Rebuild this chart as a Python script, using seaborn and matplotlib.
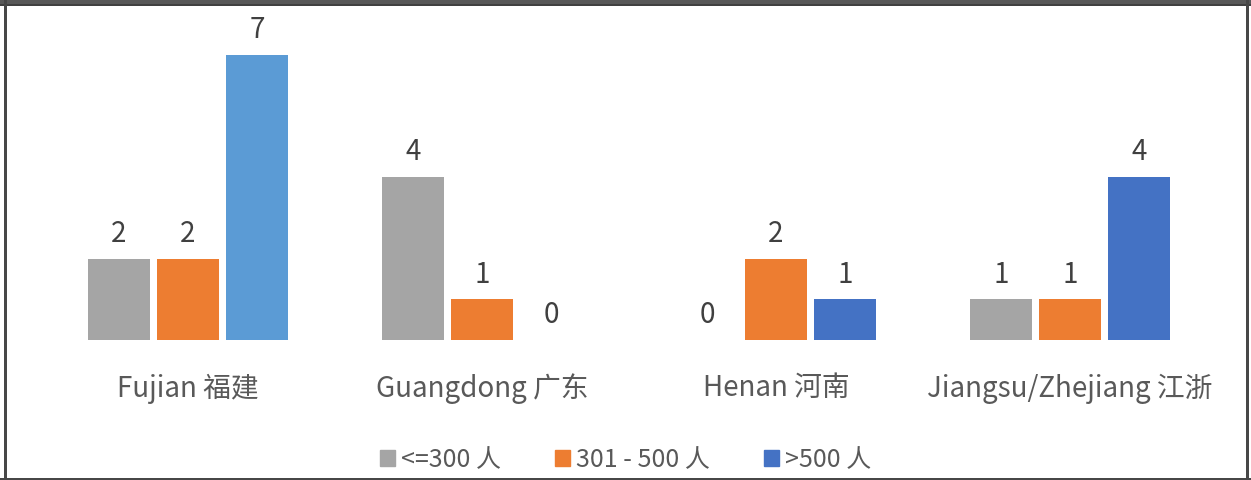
import matplotlib
matplotlib.use("Agg")
import matplotlib.pyplot as plt
from matplotlib.patches import Rectangle
import pandas as pd
import seaborn as sns

# ── DATA ──────────────────────────────────────────────────────────────────────
REGIONS = ["Fujian 福建", "Guangdong 广东", "Henan 河南", "Jiangsu/Zhejiang 江浙"]
SIZES   = ["<=300 人", "301 - 500 人", ">500 人"]
SMALL   = [2, 4, 0, 1]
MEDIUM  = [2, 1, 2, 1]
LARGE   = [7, 0, 1, 4]

COLORS  = ["#A5A5A5", "#ED7D31", "#4472C4"]
FUJIAN_LARGE_COLOR = "#5B9BD5"

df = pd.DataFrame({
    "region": REGIONS * 3,
    "size":   [SIZES[0]] * 4 + [SIZES[1]] * 4 + [SIZES[2]] * 4,
    "count":  SMALL + MEDIUM + LARGE,
})

# ── STYLE ─────────────────────────────────────────────────────────────────────
sns.set_style("white")
plt.rcParams["font.family"] = ["Noto Sans CJK SC", "DejaVu Sans"]

FS = 20

fig = plt.figure(figsize=(12.51, 4.80), dpi=100)
ax = fig.add_axes([41 / 1251, 1 - 340 / 480, 1176 / 1251, (340 - 14) / 480])

sns.barplot(data=df, x="region", y="count", hue="size",
            hue_order=SIZES, order=REGIONS, palette=COLORS, saturation=1,
            width=0.704, gap=0.1, linewidth=0, ax=ax, legend=False)

# Fujian >500 bar is a lighter blue in the original
ax.containers[2][0].set_facecolor(FUJIAN_LARGE_COLOR)

for cont in ax.containers:
    ax.bar_label(cont, fmt="%d", padding=7, fontsize=FS, color="#404040")

ax.set_xlim(-0.5, 3.5)
ax.set_ylim(0, 8)
ax.set_xlabel("")
ax.set_ylabel("")
ax.set_yticks([])
ax.tick_params(axis="x", length=0, pad=24, labelsize=FS, labelcolor="#595959")
for s in ax.spines.values():
    s.set_visible(False)

handles = [Rectangle((0, 0), 1, 1, color=c) for c in COLORS]
fig.legend(handles, SIZES, loc="center", bbox_to_anchor=(0.5, 1 - 460 / 480),
           ncol=3, frameon=False, fontsize=18, labelcolor="#595959",
           handlelength=0.6, handleheight=0.6, handletextpad=0.25,
           columnspacing=2.15)

# outer frame
W, H = 1251, 480
fig.add_artist(Rectangle((0, 1 - 5 / H), 1, 5 / H, transform=fig.transFigure,
                         facecolor="#585858", edgecolor="none"))
fig.add_artist(Rectangle((0, 1 - 6 / H), 1, 1.5 / H, transform=fig.transFigure,
                         facecolor="#404040", edgecolor="none"))
fig.add_artist(Rectangle((4 / W, 0), 2.5 / W, 1, transform=fig.transFigure,
                         facecolor="#474747", edgecolor="none"))
fig.add_artist(Rectangle((1246 / W, 0), 2.5 / W, 1, transform=fig.transFigure,
                         facecolor="#474747", edgecolor="none"))
fig.add_artist(Rectangle((0, 0.5 / H), 1, 2 / H, transform=fig.transFigure,
                         facecolor="#474747", edgecolor="none"))

fig.savefig("out.png", dpi=100)
